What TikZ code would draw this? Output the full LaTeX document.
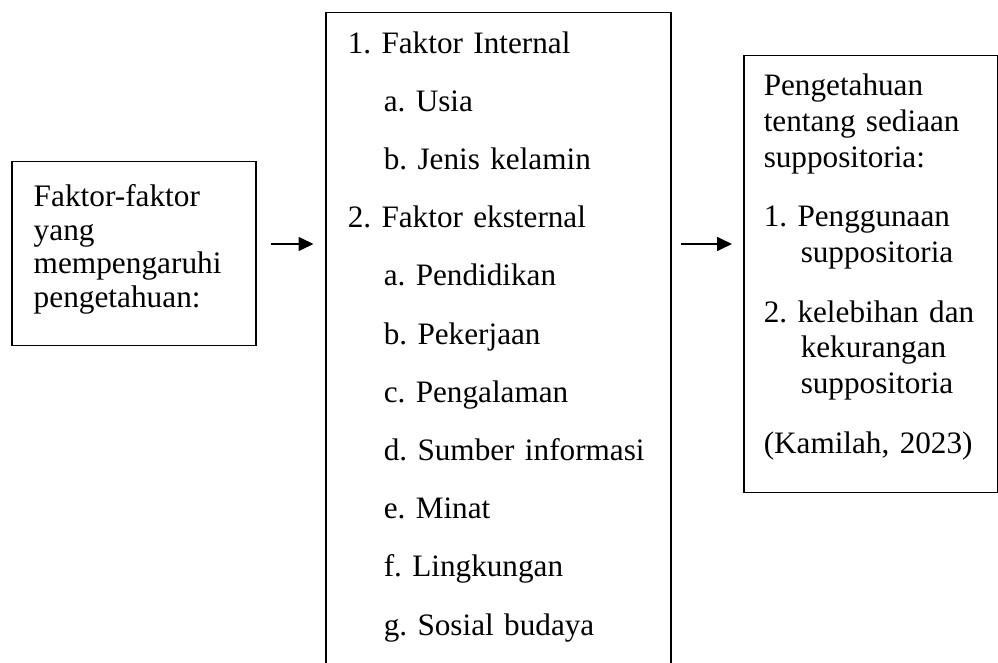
\documentclass[tikz,border=0pt]{standalone}
\usepackage{fontspec}
\setmainfont{Liberation Serif}
\usetikzlibrary{arrows.meta}
\frenchspacing
\tikzstyle{box} = [rectangle, draw, line width=0.75pt, anchor=north west, align=left, inner ysep=0pt]
\tikzstyle{connector} = [line width=0.85pt, -{Triangle[length=7.5pt,width=7pt]}]
\newcommand{\subpad}{\hspace*{18pt}}
\newcommand{\hangpad}{\hspace*{18.5pt}}

\begin{document}
\begin{tikzpicture}[x=0.5pt, y=-0.5pt]
        \useasboundingbox (0,0) rectangle (998,663);
        \node (factors) [box, text width=100pt, inner xsep=11pt, text height=22.5pt, text depth=69.5pt, font=\fontsize{15.65pt}{16.8pt}\selectfont\frenchspacing] at (11,161) {
            Faktor-faktor\\
            yang\\
            mempengaruhi\\
            pengetahuan:
        };
        \node (mid) [box, text width=150.5pt, inner xsep=11pt, text height=20.15pt, text depth=324pt, font=\fontsize{15.6pt}{29.1pt}\selectfont\frenchspacing] at (325,12) {
            1. Faktor Internal\\
            \subpad a. Usia\\
            \subpad b. Jenis kelamin\\
            2. Faktor eksternal\\
            \subpad a. Pendidikan\\
            \subpad b. Pekerjaan\\
            \subpad c. Pengalaman\\
            \subpad \mbox{d. Sumber informasi}\\
            \subpad e. Minat\\
            \subpad f. Lingkungan\\
            \subpad g. Sosial budaya
        };
        \node (outcome) [box, text width=107pt, inner xsep=10pt, text height=20pt, text depth=198.5pt, font=\fontsize{15.6pt}{17.85pt}\selectfont\frenchspacing] at (743,55) {
            Pengetahuan\\
            tentang sediaan\\
            suppositoria:\\[12pt]
            1. Penggunaan\\
            \hangpad suppositoria\\[12pt]
            \mbox{2. kelebihan dan}\\
            \hangpad kekurangan\\
            \hangpad suppositoria\\[12pt]
            (Kamilah, 2023)
        };
        \coordinate (level) at (0,244);
        \draw [connector, shorten <=7pt, shorten >=5.75pt] (factors.east |- level) -- (mid.west |- level);
        \draw [connector, shorten <=4.5pt, shorten >=5.5pt] (mid.east |- level) -- (outcome.west |- level);
    \end{tikzpicture}
\end{document}
